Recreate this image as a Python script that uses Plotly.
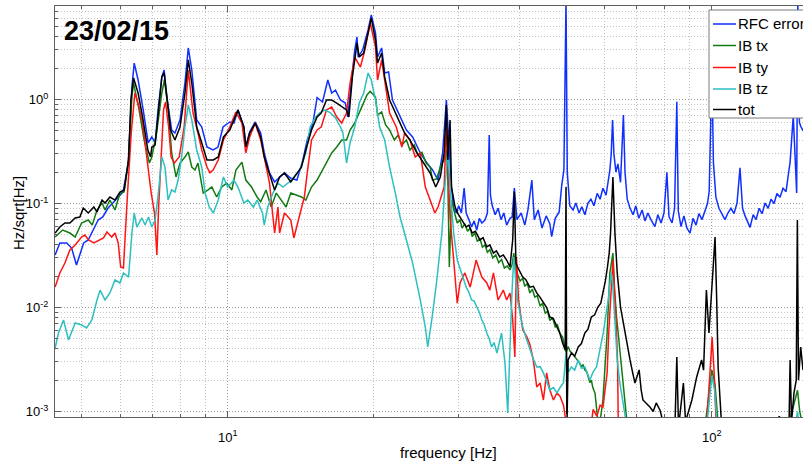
import plotly.graph_objects as go

# Amplitude spectral densities (frequency [Hz], amplitude [Hz/sqrt(Hz)])
rfc_error = [
    (4.40, 0.0320), (4.50, 0.0417), (4.65, 0.0417), (4.76, 0.0373), (4.87, 0.0256), (5.04, 0.0417),
    (5.15, 0.0446), (5.27, 0.0556), (5.40, 0.0694), (5.52, 0.0742), (5.66, 0.0905), (5.79, 0.101),
    (5.93, 0.113), (6.08, 0.129), (6.23, 0.245), (6.34, 1.32), (6.41, 2.24), (6.53, 1.54), (6.69, 0.793),
    (6.85, 0.382), (6.97, 0.436), (7.08, 0.382), (7.18, 0.793), (7.31, 1.65), (7.39, 1.92), (7.49, 1.057),
    (7.66, 0.509), (7.78, 0.476), (7.97, 0.635), (8.16, 1.44), (8.29, 3.13), (8.43, 1.92), (8.63, 0.635),
    (8.84, 0.544), (9.06, 0.349), (9.33, 0.327), (9.55, 0.349), (9.78, 0.544), (10.1, 0.608), (10.3, 0.594),
    (10.5, 0.793), (10.8, 0.544), (10.9, 0.349), (11.1, 0.487), (11.4, 0.608), (11.7, 0.476), (11.9, 0.306),
    (12.2, 0.197), (12.5, 0.161), (12.8, 0.180), (13.1, 0.197), (13.5, 0.175), (13.9, 0.168), (14.3, 0.262),
    (14.6, 0.408), (15.0, 0.594), (15.3, 1.04), (15.7, 0.946), (16.1, 1.54), (16.4, 1.155), (16.7, 1.23),
    (17.1, 0.989), (17.5, 0.925), (17.7, 0.679), (18.0, 1.44), (18.3, 2.99), (18.5, 3.99), (18.6, 2.56),
    (19.0, 2.99), (19.5, 4.66), (19.8, 6.49), (20.2, 4.36), (20.4, 2.56), (20.8, 3.13), (21.1, 1.80),
    (21.5, 1.84), (21.9, 0.989), (22.7, 0.679), (23.4, 0.509), (24.1, 0.436), (25.0, 0.306), (25.8, 0.245),
    (26.5, 0.210), (27.2, 0.168), (27.8, 0.306), (28.3, 0.989), (28.6, 0.408), (29.0, 0.144), (29.3, 0.0900),
    (29.7, 0.0810), (30.0, 0.0950), (30.4, 0.0810), (30.8, 0.141), (31.1, 0.0810), (31.5, 0.0700),
    (31.9, 0.0594), (32.3, 0.0680), (32.7, 0.0556), (33.1, 0.0720), (33.5, 0.0649), (34.0, 0.0694),
    (34.4, 0.0810), (34.7, 0.456), (34.9, 0.120), (35.2, 0.0950), (35.7, 0.0780), (36.2, 0.0900),
    (36.7, 0.0700), (37.2, 0.0810), (37.7, 0.0620), (38.3, 0.0720), (38.7, 0.0742), (39.1, 0.141),
    (39.6, 0.0700), (40.4, 0.0810), (41.1, 0.0620), (41.7, 0.0860), (42.5, 0.168), (43.0, 0.0700),
    (43.8, 0.0866), (44.6, 0.0580), (45.5, 0.0760), (46.3, 0.0640), (46.7, 0.0480), (47.5, 0.0720),
    (48.4, 0.0830), (49.0, 0.150), (49.5, 0.210), (50.0, 9.0), (50.3, 0.200), (50.9, 0.0950), (51.7, 0.0866),
    (52.4, 0.101), (53.2, 0.0810), (53.9, 0.0930), (54.7, 0.0780), (55.5, 0.101), (56.3, 0.110),
    (57.1, 0.0950), (58.0, 0.125), (58.8, 0.110), (59.6, 0.140), (60.5, 0.120), (61.2, 0.175), (61.6, 0.210),
    (62.0, 0.300), (62.4, 0.635), (62.8, 0.300), (63.4, 0.200), (64.0, 0.240), (64.8, 0.160), (65.7, 0.710),
    (66.2, 0.200), (66.9, 0.110), (67.8, 0.0900), (68.8, 0.0780), (69.7, 0.0950), (70.7, 0.0720),
    (71.8, 0.0866), (72.8, 0.0680), (73.8, 0.0810), (74.9, 0.0700), (76.3, 0.0600), (77.4, 0.0780),
    (78.6, 0.0650), (79.7, 0.0810), (80.8, 0.200), (81.6, 0.0750), (82.8, 0.0650), (83.8, 0.0900),
    (84.7, 0.950), (85.3, 0.0850), (86.4, 0.0600), (87.6, 0.0760), (88.9, 0.0580), (90.2, 0.0520),
    (91.5, 0.0720), (92.8, 0.0620), (94.1, 0.0800), (95.5, 0.0700), (96.9, 0.0860), (98.0, 0.100),
    (98.8, 0.130), (99.4, 0.500), (100.1, 2.00), (100.8, 0.250), (102.0, 0.115), (103.5, 0.0900),
    (105.0, 0.0780), (106.5, 0.0700), (108.0, 0.0810), (109.6, 0.0900), (111.2, 0.0800), (112.8, 0.101),
    (114.4, 0.220), (115.8, 0.0900), (117.2, 0.0760), (118.9, 0.0650), (120.0, 0.0590), (121.8, 0.0780),
    (123.5, 0.0700), (125.3, 0.0900), (127.1, 0.0800), (128.9, 0.101), (130.8, 0.0900), (132.6, 0.110),
    (134.5, 0.100), (136.4, 0.125), (138.4, 0.115), (140.4, 0.140), (142.4, 0.130), (144.0, 0.190),
    (145.2, 0.250), (146.2, 0.400), (147.4, 0.700), (148.6, 0.300), (149.8, 0.126), (150.6, 9.0),
    (151.8, 0.600), (152.8, 0.550), (154.4, 0.500),
]

ib_tx = [
    (4.40, 0.0476), (4.56, 0.0556), (4.72, 0.0520), (4.84, 0.0476), (4.99, 0.0649), (5.15, 0.0694),
    (5.25, 0.0621), (5.37, 0.0866), (5.50, 0.101), (5.58, 0.0866), (5.71, 0.108), (5.85, 0.0866),
    (5.99, 0.126), (6.11, 0.129), (6.24, 0.262), (6.34, 1.057), (6.39, 1.44), (6.56, 0.793), (6.72, 0.408),
    (6.89, 0.245), (6.97, 0.280), (7.13, 0.476), (7.31, 1.155), (7.40, 1.54), (7.54, 0.793), (7.66, 0.306),
    (7.82, 0.180), (7.97, 0.245), (8.16, 0.280), (8.29, 0.313), (8.43, 0.224), (8.56, 0.210), (8.68, 0.245),
    (8.90, 0.126), (9.11, 0.135), (9.27, 0.144), (9.49, 0.1155), (9.72, 0.144), (9.95, 0.157), (10.2, 0.135),
    (10.4, 0.210), (10.7, 0.250), (10.9, 0.168), (11.2, 0.144), (11.5, 0.1155), (11.7, 0.104), (12.0, 0.135),
    (12.3, 0.0925), (12.6, 0.126), (12.9, 0.108), (13.2, 0.0925), (13.5, 0.126), (13.9, 0.121),
    (14.2, 0.1155), (14.5, 0.108), (14.9, 0.144), (15.3, 0.168), (15.6, 0.197), (16.0, 0.245), (16.4, 0.306),
    (16.8, 0.349), (17.2, 0.408), (17.6, 0.408), (17.9, 0.509), (18.3, 0.594), (18.7, 0.742), (19.0, 0.885),
    (19.4, 1.105), (19.7, 1.20), (20.2, 1.057), (20.4, 0.710), (20.8, 0.758), (21.2, 0.569), (21.6, 0.509),
    (22.1, 0.408), (22.5, 0.456), (22.9, 0.365), (23.4, 0.408), (23.8, 0.327), (24.3, 0.365), (24.7, 0.293),
    (25.2, 0.310), (25.7, 0.245), (26.2, 0.224), (26.5, 0.168), (27.0, 0.172), (27.6, 0.2345), (28.0, 0.262),
    (28.3, 0.327), (28.5, 0.168), (28.7, 0.0245), (28.9, 0.0556), (29.0, 0.108), (29.5, 0.0775),
    (29.8, 0.0650), (30.2, 0.0700), (30.5, 0.0580), (30.9, 0.0640), (31.3, 0.0540), (31.7, 0.0580),
    (32.0, 0.0480), (32.4, 0.0520), (32.8, 0.0430), (33.2, 0.0460), (33.6, 0.0380), (34.0, 0.0400),
    (34.4, 0.0340), (34.8, 0.0360), (35.3, 0.0300), (35.8, 0.0320), (36.3, 0.0270), (36.8, 0.0290),
    (37.3, 0.0240), (37.8, 0.0250), (38.3, 0.0230), (38.7, 0.0260), (39.0, 0.0334), (39.4, 0.0229),
    (39.8, 0.0200), (40.2, 0.0180), (40.7, 0.0190), (41.1, 0.0160), (41.6, 0.0170), (42.1, 0.0138),
    (42.6, 0.0150), (43.1, 0.0126), (43.6, 0.0130), (44.2, 0.0103), (44.7, 0.0110), (45.3, 0.0088),
    (45.8, 0.0092), (46.3, 0.0075), (46.9, 0.0080), (47.5, 0.0065), (48.0, 0.0068), (48.6, 0.0056),
    (49.2, 0.0052), (49.8, 0.0041), (50.0, 0.0037), (50.5, 0.0042), (51.0, 0.0038), (51.6, 0.0036),
    (52.2, 0.0033), (52.8, 0.0031), (53.4, 0.0029), (53.8, 0.0027), (54.2, 0.0028), (54.7, 0.0025),
    (55.2, 0.0024), (55.6, 0.0021), (56.0, 0.0019), (56.4, 0.0020), (56.8, 0.0017), (57.4, 0.0015),
    (58.2, 0.0008), (59.0, 0.0009), (59.6, 0.00129), (60.8, 0.00569), (61.6, 0.0215), (62.5, 0.0334),
    (63.0, 0.0147), (63.6, 0.00811), (64.3, 0.00487), (65.1, 0.00268), (65.9, 0.00161), (66.8, 0.0008),
    (70.0, 0.0005), (85.0, 0.0005), (96.4, 0.0006), (98.3, 0.0012), (100.1, 0.0025), (101.6, 0.0018),
    (103.0, 0.0008), (106.0, 0.0005), (140.0, 0.0005), (147.3, 0.0011), (150.4, 0.0016), (152.0, 0.0010),
    (154.4, 0.0007),
]

ib_ty = [
    (4.40, 0.0157), (4.50, 0.0215), (4.61, 0.0268), (4.72, 0.0357), (4.84, 0.0399), (4.99, 0.0476),
    (5.07, 0.0498), (5.16, 0.0446), (5.29, 0.0417), (5.42, 0.0446), (5.54, 0.0466), (5.63, 0.0533),
    (5.76, 0.0476), (5.85, 0.0520), (5.94, 0.0417), (6.01, 0.0245), (6.09, 0.0240), (6.21, 0.126),
    (6.32, 0.476), (6.43, 1.155), (6.56, 0.847), (6.67, 0.594), (6.84, 0.224), (6.95, 0.126), (7.06, 0.0810),
    (7.14, 0.0320), (7.20, 0.0925), (7.29, 0.327), (7.37, 0.793), (7.44, 0.946), (7.55, 0.544), (7.64, 0.280),
    (7.76, 0.245), (7.94, 0.280), (8.13, 0.544), (8.29, 1.92), (8.48, 0.742), (8.68, 0.476), (8.84, 0.327),
    (9.06, 0.224), (9.19, 0.197), (9.33, 0.210), (9.56, 0.262), (9.80, 0.408), (10.1, 0.544), (10.4, 0.758),
    (10.7, 0.594), (10.9, 0.306), (11.1, 0.436), (11.4, 0.594), (11.7, 0.408), (11.9, 0.280), (12.2, 0.157),
    (12.5, 0.0520), (12.7, 0.0925), (12.8, 0.0520), (13.1, 0.0810), (13.5, 0.0694), (13.7, 0.0466),
    (14.0, 0.0694), (14.4, 0.1155), (14.6, 0.197), (14.9, 0.408), (15.3, 0.509), (15.6, 0.544), (16.0, 0.793),
    (16.4, 0.847), (16.8, 0.679), (17.2, 0.594), (17.6, 0.742), (17.9, 1.44), (18.3, 2.56), (18.8, 2.05),
    (19.2, 2.99), (19.7, 5.44), (20.2, 3.20), (20.4, 1.54), (20.8, 2.40), (21.1, 1.54), (21.6, 0.742),
    (22.3, 0.544), (22.9, 0.349), (23.2, 0.476), (23.8, 0.408), (24.4, 0.280), (25.0, 0.306), (25.6, 0.144),
    (26.2, 0.108), (26.8, 0.0810), (27.2, 0.0925), (28.0, 0.144), (28.3, 0.544), (28.6, 0.1965),
    (28.8, 0.0742), (29.3, 0.0286), (29.8, 0.0110), (30.2, 0.0172), (30.9, 0.0215), (31.7, 0.0157),
    (32.6, 0.0286), (33.5, 0.0196), (34.3, 0.0172), (34.8, 0.0147), (35.4, 0.0215), (36.2, 0.0118),
    (37.1, 0.0147), (37.7, 0.0118), (38.3, 0.0138), (38.8, 0.00758), (39.2, 0.00334), (39.5, 0.0306),
    (39.9, 0.0118), (40.7, 0.00608), (41.5, 0.00521), (42.1, 0.0044), (42.8, 0.00313), (43.5, 0.00172),
    (44.2, 0.00188), (44.9, 0.00129), (45.6, 0.00235), (46.3, 0.00161), (47.1, 0.00129), (47.9, 0.00151),
    (48.6, 0.0014), (49.4, 0.00115), (50.0, 0.0008), (52.0, 0.0005), (55.0, 0.0005), (56.0, 0.0006),
    (56.9, 0.00105), (57.9, 0.0009), (58.8, 0.00115), (59.6, 0.0011), (60.8, 0.00235), (61.3, 0.0060),
    (62.0, 0.0138), (62.5, 0.0286), (63.1, 0.0120), (63.4, 0.00811), (63.9, 0.0030), (64.1, 0.0008),
    (64.6, 0.0005), (95.0, 0.0005), (97.3, 0.0006), (98.7, 0.0015), (99.7, 0.0035), (100.2, 0.0052),
    (101.1, 0.0025), (102.0, 0.0009), (103.0, 0.0005), (154.4, 0.0005),
]

ib_tz = [
    (4.40, 0.00408), (4.47, 0.00569), (4.58, 0.00758), (4.69, 0.00487), (4.84, 0.00710), (4.99, 0.00679),
    (5.11, 0.00635), (5.24, 0.00758), (5.37, 0.0118), (5.45, 0.0147), (5.58, 0.0118), (5.71, 0.0138),
    (5.85, 0.0184), (5.99, 0.0172), (6.09, 0.0215), (6.24, 0.0196), (6.34, 0.0520), (6.41, 0.0810),
    (6.49, 0.0594), (6.65, 0.0726), (6.75, 0.0621), (6.86, 0.0742), (6.97, 0.0594), (7.08, 0.0694),
    (7.19, 0.126), (7.31, 0.280), (7.42, 0.224), (7.53, 0.108), (7.66, 0.135), (7.78, 0.129), (7.90, 0.168),
    (8.03, 0.280), (8.16, 0.544), (8.29, 0.885), (8.43, 0.635), (8.63, 0.327), (8.84, 0.224), (8.98, 0.126),
    (9.16, 0.0925), (9.34, 0.0810), (9.56, 0.108), (9.80, 0.180), (10.0, 0.144), (10.3, 0.168), (10.5, 0.144),
    (10.8, 0.101), (11.0, 0.108), (11.3, 0.0925), (11.5, 0.108), (11.8, 0.0810), (11.9, 0.0621),
    (12.1, 0.0925), (12.4, 0.126), (12.7, 0.157), (13.0, 0.144), (13.4, 0.161), (13.7, 0.180), (14.1, 0.210),
    (14.5, 0.306), (14.8, 0.544), (15.2, 0.679), (15.5, 0.742), (15.9, 0.793), (16.3, 0.742), (16.7, 0.665),
    (17.1, 0.544), (17.3, 0.476), (17.6, 0.245), (17.9, 0.382), (18.3, 0.544), (18.7, 0.925), (19.1, 1.155),
    (19.5, 1.80), (19.8, 1.54), (20.2, 0.989), (20.6, 0.544), (21.1, 0.408), (21.6, 0.224), (22.2, 0.126),
    (22.7, 0.0742), (23.4, 0.0446), (24.1, 0.0268), (25.0, 0.0118), (25.6, 0.00649), (25.9, 0.00417),
    (26.4, 0.00758), (27.0, 0.0172), (27.7, 0.0520), (28.1, 0.144), (28.5, 0.327), (28.8, 0.144),
    (29.3, 0.0520), (29.8, 0.0286), (30.4, 0.0215), (30.8, 0.0180), (31.1, 0.0157), (31.5, 0.0140),
    (31.9, 0.0118), (32.3, 0.0115), (32.7, 0.0101), (33.1, 0.0090), (33.5, 0.00758), (33.9, 0.0068),
    (34.3, 0.00569), (34.7, 0.0050), (35.1, 0.00417), (35.5, 0.0046), (36.0, 0.00365), (36.8, 0.00569),
    (37.4, 0.00293), (37.9, 0.00097), (38.6, 0.0118), (39.0, 0.0306), (39.7, 0.0118), (40.7, 0.00649),
    (41.4, 0.0050), (42.1, 0.00390), (42.8, 0.0032), (43.5, 0.00268), (44.2, 0.0027), (44.9, 0.00235),
    (45.6, 0.0019), (46.3, 0.00161), (47.1, 0.0017), (47.9, 0.00151), (48.6, 0.0017), (49.4, 0.00188),
    (50.0, 0.00365), (50.6, 0.0024), (51.3, 0.00268), (52.1, 0.0025), (53.0, 0.00313), (53.8, 0.0026),
    (54.7, 0.00268), (55.3, 0.0023), (56.0, 0.00201), (56.9, 0.0024), (57.8, 0.00268), (58.8, 0.0040),
    (59.7, 0.00569), (61.1, 0.0118), (62.0, 0.0215), (62.5, 0.0157), (63.1, 0.00811), (63.8, 0.00313),
    (64.6, 0.00188), (65.2, 0.00140), (66.2, 0.00089), (67.2, 0.0006), (95.0, 0.0005), (97.3, 0.0006),
    (98.9, 0.0013), (100.1, 0.0022), (101.4, 0.0016), (102.5, 0.0008), (104.0, 0.0005), (146.0, 0.0005),
    (148.6, 0.0007), (150.4, 0.0010), (152.0, 0.0006), (154.4, 0.0005),
]

total = [
    (4.40, 0.0520), (4.50, 0.0594), (4.61, 0.0649), (4.72, 0.0649), (4.84, 0.0726), (4.95, 0.0742),
    (5.03, 0.0905), (5.15, 0.0810), (5.29, 0.0925), (5.37, 0.0830), (5.50, 0.108), (5.58, 0.101),
    (5.71, 0.1155), (5.85, 0.108), (5.99, 0.129), (6.11, 0.135), (6.24, 0.262), (6.31, 0.989), (6.39, 1.61),
    (6.53, 1.155), (6.67, 0.679), (6.84, 0.327), (6.93, 0.280), (6.97, 0.349), (7.08, 0.365), (7.19, 0.793),
    (7.31, 1.65), (7.39, 1.80), (7.50, 0.989), (7.62, 0.509), (7.78, 0.408), (7.97, 0.544), (8.16, 1.155),
    (8.29, 2.40), (8.43, 1.44), (8.63, 0.544), (8.84, 0.382), (9.06, 0.262), (9.34, 0.262), (9.56, 0.280),
    (9.80, 0.436), (10.1, 0.509), (10.5, 0.793), (10.8, 0.544), (10.9, 0.349), (11.1, 0.476), (11.4, 0.594),
    (11.7, 0.436), (11.9, 0.280), (12.2, 0.1965), (12.5, 0.135), (12.8, 0.180), (13.1, 0.1965), (13.5, 0.161),
    (13.9, 0.1965), (14.2, 0.224), (14.5, 0.327), (14.9, 0.509), (15.3, 0.679), (15.6, 0.742), (16.0, 0.989),
    (16.4, 0.989), (16.8, 0.925), (17.2, 0.847), (17.6, 0.793), (17.8, 0.679), (18.1, 1.65), (18.5, 3.49),
    (18.7, 2.56), (19.1, 2.80), (19.5, 4.36), (19.8, 6.08), (20.2, 3.73), (20.4, 2.24), (20.8, 2.80),
    (21.1, 1.65), (21.6, 0.989), (22.2, 0.742), (22.7, 0.594), (23.2, 0.476), (23.8, 0.408), (24.6, 0.306),
    (25.4, 0.245), (26.2, 0.1965), (26.9, 0.144), (27.5, 0.180), (28.0, 0.306), (28.3, 0.885), (28.5, 0.262),
    (28.8, 0.635), (29.0, 0.144), (29.5, 0.0925), (29.9, 0.0800), (30.2, 0.0742), (30.6, 0.0680),
    (31.1, 0.0594), (31.5, 0.0620), (32.0, 0.0520), (32.5, 0.0540), (33.2, 0.0446), (33.7, 0.0470),
    (34.3, 0.0382), (34.8, 0.0400), (35.4, 0.0334), (35.9, 0.0350), (36.5, 0.0306), (37.1, 0.0320),
    (37.7, 0.0286), (38.3, 0.0245), (38.8, 0.0446), (39.1, 0.130), (39.4, 0.0268), (39.7, 0.0245),
    (40.2, 0.0220), (40.7, 0.0196), (41.3, 0.0185), (42.1, 0.0157), (42.8, 0.0160), (43.5, 0.0138),
    (44.2, 0.0125), (44.9, 0.0110), (45.6, 0.0100), (46.3, 0.00811), (47.1, 0.00780), (47.9, 0.00649),
    (48.6, 0.00560), (49.2, 0.00456), (49.8, 0.00390), (50.0, 0.144), (50.2, 0.0006), (50.5, 0.00313),
    (51.3, 0.00365), (52.1, 0.00340), (53.0, 0.00417), (53.8, 0.00450), (54.7, 0.00569), (55.5, 0.00620),
    (56.4, 0.00811), (57.3, 0.00850), (58.2, 0.0101), (59.0, 0.0110), (59.6, 0.0138), (60.3, 0.0180),
    (60.9, 0.0245), (61.4, 0.0330), (61.8, 0.0520), (62.5, 0.180), (63.1, 0.0520), (63.8, 0.0215),
    (64.8, 0.0101), (65.5, 0.0075), (66.2, 0.00569), (67.0, 0.0042), (67.8, 0.00313), (68.6, 0.0024),
    (69.4, 0.00188), (70.8, 0.00251), (71.5, 0.0016), (72.1, 0.00129), (73.3, 0.0012), (74.6, 0.00110),
    (75.7, 0.0010), (76.8, 0.00121), (78.2, 0.00103), (79.3, 0.0008), (82.0, 0.0006), (84.0, 0.0008),
    (84.7, 0.00334), (85.4, 0.0007), (87.4, 0.00188), (88.3, 0.0008), (91.0, 0.00129), (93.1, 0.00215),
    (95.3, 0.00313), (96.2, 0.0025), (97.5, 0.0147), (98.7, 0.00569), (100.7, 0.0245), (101.6, 0.0476),
    (102.4, 0.0118), (103.1, 0.00268), (104.7, 0.0008), (106.5, 0.0006), (130.0, 0.0006), (138.0, 0.0009),
    (139.0, 0.0006), (144.5, 0.0008), (145.2, 0.00313), (146.2, 0.0008), (147.9, 0.0015), (149.5, 0.0020),
    (150.3, 0.0694), (151.1, 0.0020), (152.7, 0.00417), (154.4, 0.0025),
]

series_names = ["RFC error", "IB tx", "IB ty", "IB tz", "tot"]
series_data = [rfc_error, ib_tx, ib_ty, ib_tz, total]
series_colors = ["#1030ff", "#137a13", "#ff1414", "#2ebfbf", "#000000"]

date_label = "23/02/15"
x_title = "frequency [Hz]"
y_title = "Hz/sqrt[Hz]"

x_major = [10, 100]
x_major_text = ["10<sup>1</sup>", "10<sup>2</sup>"]
x_minor = [5, 6, 7, 8, 9, 20, 30, 40, 50, 60, 70, 80, 90]
y_major = [0.001, 0.01, 0.1, 1]
y_major_text = ["10<sup>-3</sup>", "10<sup>-2</sup>", "10<sup>-1</sup>", "10<sup>0</sup>"]
y_minor = [k * d for d in (0.001, 0.01, 0.1) for k in range(2, 10)] + [2, 3, 4, 5, 6, 7]

FONT = "Liberation Sans, Arial, Helvetica, sans-serif"
W, H = 803, 464
ML, MR, MT, MB = 55, 0, 6, 47
PW, PH = W - ML - MR, H - MT - MB


def px_x(px):
    return (px - ML) / PW


def px_y(py):
    return (H - MB - py) / PH


fig = go.Figure()
for name, pts, col in zip(series_names, series_data, series_colors):
    fig.add_trace(go.Scatter(
        x=[p[0] for p in pts], y=[p[1] for p in pts], name=name, mode="lines",
        line=dict(color=col, width=1.5), showlegend=False,
    ))

grid_major = dict(showgrid=True, gridcolor="#9c9c9c", griddash="1px,2px", gridwidth=1)
grid_minor = dict(showgrid=True, gridcolor="#c2c2c2", griddash="1px,2px", gridwidth=1)

fig.update_xaxes(
    type="log", range=[0.6432, 2.1886], tickmode="array", tickvals=x_major, ticktext=x_major_text,
    ticks="inside", ticklen=6, tickcolor="#606060", showline=True, linecolor="#606060", linewidth=1,
    mirror="ticks", zeroline=False, tickfont=dict(family=FONT, size=13, color="#000"),
    ticklabelstandoff=8,
    minor=dict(tickvals=x_minor, ticks="inside", ticklen=3, tickcolor="#606060", **grid_minor),
    **grid_major,
)
fig.update_yaxes(
    type="log", range=[-3.0529, 0.899], tickmode="array", tickvals=y_major, ticktext=y_major_text,
    ticks="inside", ticklen=6, tickcolor="#606060", showline=True, linecolor="#606060", linewidth=1,
    mirror=False, zeroline=False, tickfont=dict(family=FONT, size=13, color="#000"),
    ticklabelstandoff=3,
    minor=dict(tickvals=y_minor, ticks="inside", ticklen=3, tickcolor="#606060", **grid_minor),
    **grid_major,
)

annotations = [
    dict(text=date_label, x=px_x(62), y=px_y(31), xanchor="left", yanchor="middle",
         font=dict(family=FONT, size=27, color="#000", weight="bold")),
    dict(text=x_title, x=px_x(448), y=px_y(452), xanchor="center", yanchor="middle",
         font=dict(family=FONT, size=15, color="#000")),
    dict(text=y_title, x=px_x(19), y=px_y(213), xanchor="center", yanchor="middle", textangle=-90,
         font=dict(family=FONT, size=15, color="#000")),
]

# Legend box drawn on top of the plot area (it runs past the right edge)
shapes = [dict(type="rect", xref="paper", yref="paper", x0=px_x(709), x1=px_x(840), y0=px_y(118),
               y1=px_y(10), fillcolor="white", line=dict(color="#7a7a7a", width=1), layer="above")]
legend_rows = [24, 45.5, 67.5, 89, 109.5]
for name, col, row in zip(series_names, series_colors, legend_rows):
    shapes.append(dict(type="line", xref="paper", yref="paper", x0=px_x(713), x1=px_x(736),
                       y0=px_y(row), y1=px_y(row), line=dict(color=col, width=1.5), layer="above"))
    annotations.append(dict(text=name, x=px_x(736), y=px_y(row), xanchor="left", yanchor="middle",
                            font=dict(family=FONT, size=15, color="#000")))

for a in annotations:
    a.update(xref="paper", yref="paper", showarrow=False)

fig.update_layout(
    width=W, height=H, margin=dict(l=ML, r=MR, t=MT, b=MB, autoexpand=False),
    paper_bgcolor="white", plot_bgcolor="white", annotations=annotations, shapes=shapes,
    showlegend=False,
)

fig.write_html("out.html")
